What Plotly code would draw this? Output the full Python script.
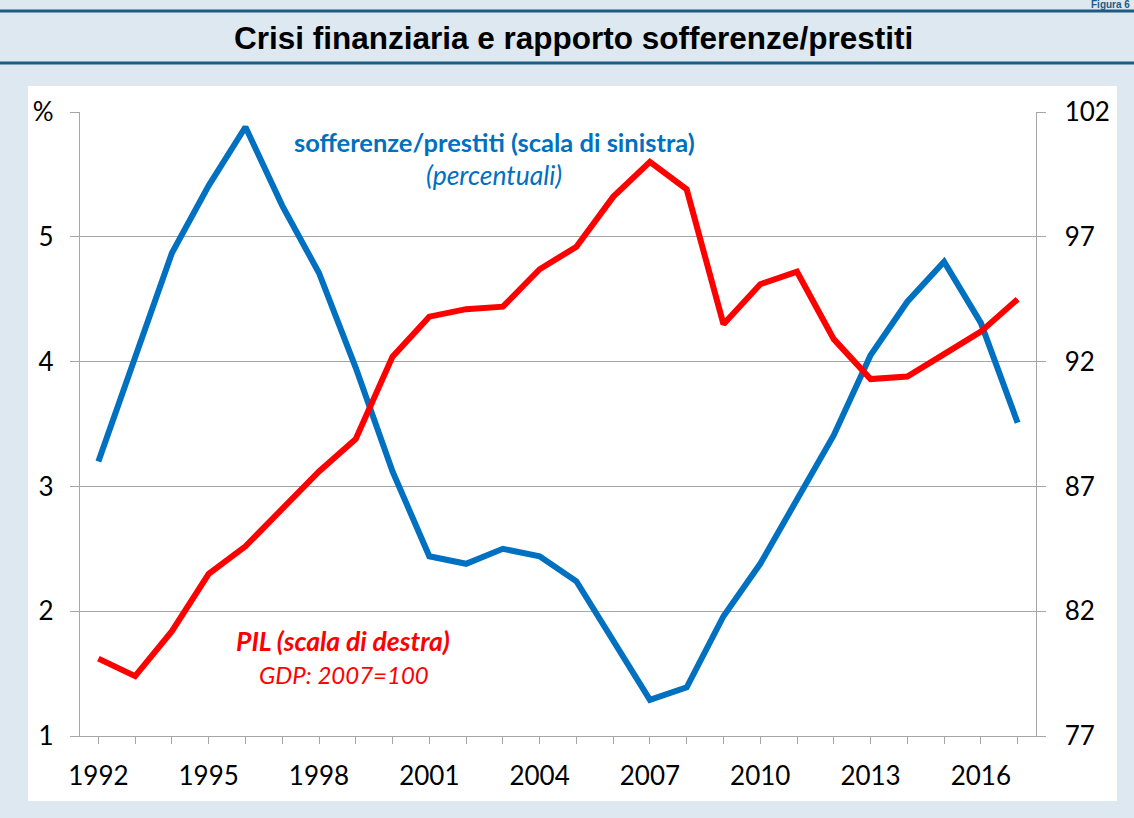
import plotly.graph_objects as go

years = list(range(1992, 2018))

# sofferenze/prestiti, % (left scale)
sofferenze = [3.20, 4.03, 4.87, 5.41, 5.88, 5.25, 4.71, 3.95, 3.12, 2.44, 2.38, 2.50, 2.44,
              2.24, 1.76, 1.29, 1.39, 1.96, 2.38, 2.90, 3.41, 4.05, 4.48, 4.80, 4.31, 3.51]

# PIL, 2007=100 (right scale)
pil = [80.1, 79.4, 81.2, 83.5, 84.6, 86.1, 87.6, 88.9, 92.2, 93.8, 94.1, 94.2, 95.7,
       96.6, 98.6, 100.0, 98.9, 93.5, 95.1, 95.6, 92.9, 91.3, 91.4, 92.3, 93.2, 94.5]

left_ticks = [1, 2, 3, 4, 5, 6]
left_text = ["1", "2", "3", "4", "5", "%"]
right_ticks = [77, 82, 87, 92, 97, 102]
x_labels = [1992, 1995, 1998, 2001, 2004, 2007, 2010, 2013, 2016]

BLUE = "#0070c0"
RED = "#ff0000"
GRID = "#a6a6a6"
BG = "#dde8f1"
DARK = "#1d5b84"

# plot area in pixels: x 80..1036, y 112..736
def px(x):
    return (x - 80) / 956

def py(y):
    return (736 - y) / 624

fig = go.Figure()
fig.add_trace(go.Scatter(x=years, y=sofferenze, mode="lines", name="sofferenze/prestiti",
                         line=dict(color=BLUE, width=6), yaxis="y"))
fig.add_trace(go.Scatter(x=years, y=pil, mode="lines", name="PIL",
                         line=dict(color=RED, width=6), yaxis="y2"))

tickfont = dict(family="Lato, Open Sans, sans-serif", size=26, color="black")

fig.update_layout(
    width=1134, height=818,
    margin=dict(l=80, r=98, t=112, b=82, autoexpand=False),
    paper_bgcolor=BG, plot_bgcolor="white",
    showlegend=False,
    # a tick on every year, a label every three years
    xaxis=dict(range=[years[0] - 0.5, years[-1] + 0.5], tickvals=years,
               ticktext=[str(y) if y in x_labels else "" for y in years],
               ticks="outside", ticklen=7, tickcolor=GRID, tickfont=tickfont,
               ticklabelstandoff=10, automargin=False,
               showgrid=False, zeroline=False, showline=True, linecolor=GRID, linewidth=1.3),
    yaxis=dict(range=[1, 6], tickvals=left_ticks, ticktext=left_text, tickfont=tickfont,
               showgrid=True, gridcolor=GRID, gridwidth=1.3, zeroline=False,
               showline=True, linecolor=GRID, linewidth=1.3, automargin=False,
               ticks="outside", ticklen=9, tickcolor=GRID, ticklabelstandoff=11),
    yaxis2=dict(range=[77, 102], tickvals=right_ticks,
                ticktext=["\u00a0\u00a0" + str(v) for v in right_ticks],
                tickfont=tickfont, overlaying="y", automargin=False,
                side="right", showgrid=False, zeroline=False,
                showline=True, linecolor=GRID, linewidth=1.3,
                ticks="outside", ticklen=9, tickcolor=GRID),
)

# frame: title band lines and white panel
shapes = [
    dict(type="rect", xref="paper", yref="paper", x0=px(28), x1=px(1117), y0=py(801), y1=py(86),
         fillcolor="white", line=dict(width=0), layer="below"),
    dict(type="line", xref="paper", yref="paper", x0=px(0), x1=px(1134), y0=py(11), y1=py(11),
         line=dict(color=DARK, width=3)),
    dict(type="line", xref="paper", yref="paper", x0=px(0), x1=px(1134), y0=py(63), y1=py(63),
         line=dict(color=DARK, width=3)),
]
fig.update_layout(shapes=shapes)

labfont = "Lato, Open Sans, sans-serif"
annotations = [
    dict(text="<b>Crisi finanziaria e rapporto sofferenze/prestiti</b>", x=px(573), y=py(38),
         font=dict(family="Liberation Sans, Arial, sans-serif", size=31.5, color="black")),
    dict(text="<b>Figura 6</b>", x=px(1132), y=py(5), xanchor="right",
         font=dict(family="Liberation Sans, Arial, sans-serif", size=10, color=DARK)),
    dict(text="<b>sofferenze/prestiti (scala di sinistra)</b>", x=px(494), y=py(142),
         font=dict(family=labfont, size=25.5, color=BLUE)),
    dict(text="<i>(percentuali)</i>", x=px(494), y=py(175),
         font=dict(family=labfont, size=26.5, color=BLUE)),
    dict(text="<b><i>PIL (scala di destra)</i></b>", x=px(343), y=py(641),
         font=dict(family=labfont, size=26.5, color=RED)),
    dict(text="<i>GDP: 2007=100</i>", x=px(344), y=py(674),
         font=dict(family=labfont, size=24, color=RED)),
]
for a in annotations:
    a.setdefault("xanchor", "center")
    a.update(xref="paper", yref="paper", showarrow=False, yanchor="middle")
fig.update_layout(annotations=annotations)

fig.write_html("out.html", config={"displayModeBar": False},
               post_script="document.body.style.margin='0';")
